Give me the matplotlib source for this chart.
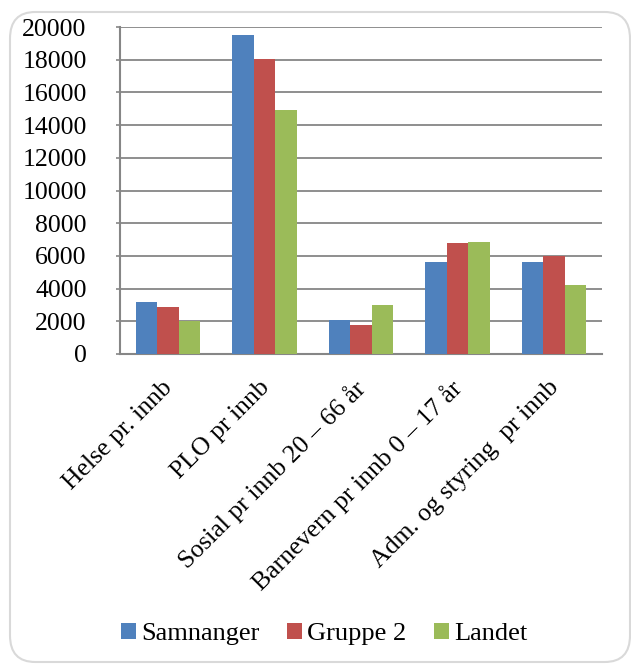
import matplotlib
matplotlib.use("Agg")
import matplotlib.pyplot as plt
import numpy as np
from matplotlib.patches import FancyBboxPatch
from matplotlib.transforms import ScaledTranslation

categories = ["Helse pr. innb", "PLO pr innb", "Sosial pr innb 20 – 66 år",
              "Barnevern pr innb 0 – 17 år", "Adm. og styring  pr innb"]
series_names = ["Samnanger", "Gruppe 2", "Landet"]
samnanger = [3160, 19510, 2080, 5630, 5650]
gruppe2 = [2875, 18060, 1795, 6810, 5995]
landet = [2020, 14920, 2980, 6850, 4220]
colors = ["#4F81BD", "#C0504D", "#9BBB59"]
yticks = [0, 2000, 4000, 6000, 8000, 10000, 12000, 14000, 16000, 18000, 20000]

W, H = 631, 665
plt.rcParams['font.family'] = ['Liberation Serif', 'DejaVu Serif']
fig = plt.figure(figsize=(W / 100, H / 100), dpi=100)

# rounded frame
frame = FancyBboxPatch((10 / W, 3 / H), 620 / W, 650 / H,
                       boxstyle="round,pad=0,rounding_size=0.04",
                       transform=fig.transFigure, facecolor="white",
                       edgecolor="#d9d9d9", linewidth=1.5, zorder=-5)
fig.patches.append(frame)

ax = fig.add_axes([120 / W, 1 - 354 / H, (602 - 120) / W, (354 - 27) / H])
ax.set_zorder(2)
ax.set_facecolor("none")

x = np.arange(len(categories))
bw = 0.222
for i, (vals, name) in enumerate(zip([samnanger, gruppe2, landet], series_names)):
    ax.bar(x + (i - 1) * bw, vals, width=bw, color=colors[i], label=name,
           zorder=3, edgecolor="none")

ax.set_xlim(-0.5, len(categories) - 0.5)
ax.set_ylim(0, 20000)
ax.set_yticks(yticks)
ax.set_yticklabels([str(v) for v in yticks], fontsize=18.5)
ax.yaxis.grid(True, color="#868686", linewidth=1.3, zorder=0)
ax.set_axisbelow(True)
ax.tick_params(axis='y', length=3, width=1.2, color="#868686", pad=21)
ax.set_xticks(x)
ax.set_xticklabels(categories, rotation=45, ha='right', fontsize=18.5)
ax.tick_params(axis='x', length=0, pad=16)
off = ScaledTranslation(9 / 100, 0, fig.dpi_scale_trans)
for lbl in ax.get_xticklabels():
    lbl.set_transform(lbl.get_transform() + off)
for s in ["top", "right"]:
    ax.spines[s].set_visible(False)
for s in ["left", "bottom"]:
    ax.spines[s].set_color("#868686")
    ax.spines[s].set_linewidth(1.5)

leg = fig.legend(loc='center', bbox_to_anchor=(324 / W, 1 - 634 / H), ncol=3,
                 frameon=False, fontsize=19, handlelength=0.56, handleheight=0.56,
                 handletextpad=0.2, columnspacing=1.05, borderpad=0, borderaxespad=0)
leg.set_zorder(3)

fig.savefig("out.png", dpi=100)
